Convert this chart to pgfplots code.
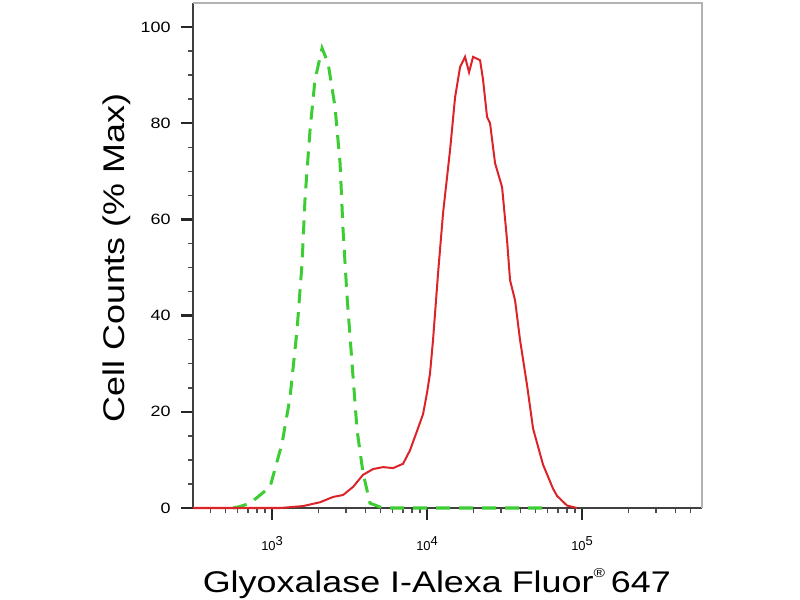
\documentclass[border=0pt]{standalone}
\usepackage{fontspec}
\setmainfont{Liberation Sans}
\usepackage{graphicx}
\usepackage{pgfplots}
\pgfplotsset{compat=1.18}

\definecolor{ctrlgreen}{RGB}{60,205,50}
\definecolor{samplered}{RGB}{220,35,40}

% isotype control (green dashed)
\pgfplotstableread{
x y
560 0
620 0.3
722 1.0
971 4.4
1161 13.5
1306 23
1449 37
1562 51
1634 64.7
1758 78.6
1892 89
2102 95.6
2298 92.5
2548 83.4
2746 71.7
2871 57.8
3047 43.9
3282 30
3535 16.2
3863 7.3
4285 1
4973 0.2
5525 0
60000 0
}\ctrltable

% Glyoxalase I stained cells (red)
\pgfplotstableread{
x y
309 0
1127 0
1585 0.4
2042 1.2
2476 2.3
2871 2.7
3334 4.4
3863 6.9
4487 8.1
5204 8.5
6040 8.3
7003 9.2
7762 12
8612 16
9418 19.5
10000 24
10450 28
10930 35
11780 48.9
12680 61.3
14070 74.4
15160 85.4
16330 91.7
17580 93.8
18660 90.6
19810 93.8
21980 93.1
22980 89
24380 81.3
25480 80
27460 71.7
30480 66.7
32810 55.7
34300 47.4
36960 43.2
39810 34.9
44170 25.5
48300 16.5
56010 9
65000 4
69000 2.5
80000 0.5
92900 0
}\redtable

\begin{document}
\begin{tikzpicture}
\path[use as bounding box] (0,0) rectangle (800bp,600bp);
\begin{axis}[
    at={(193bp,92bp)}, anchor=south west,
    scale only axis,
    width=509bp, height=505bp,
    xmode=log,
    xmin=309, xmax=594000,
    ymin=0, ymax=105,
    clip=false,
    axis x line*=bottom,
    axis y line*=left,
    axis line style={line width=1.5bp, black!75},
    tick align=outside,
    major tick length=12bp,
    minor tick length=5bp,
    every major tick/.append style={line width=2.5bp, black!85},
    every minor tick/.append style={line width=1.5bp, black!70},
    ytick={0,20,40,60,80,100},
    minor y tick num=3,
    xtick={1000,10000,100000},
    xticklabels={10\raisebox{0.7ex}{3},10\raisebox{0.7ex}{4},10\raisebox{0.7ex}{5}},
    minor xtick={400,500,600,700,800,900,2000,3000,4000,5000,6000,7000,8000,9000,20000,30000,40000,50000,60000,70000,80000,90000,200000,300000,400000,500000},
    xticklabel style={font=\fontsize{13}{15}\selectfont, anchor=base, yshift=-30bp},
    /pgf/number format/assume math mode=true,
    yticklabel style={font=\fontsize{15}{18}\selectfont, xshift=-7bp},
    yticklabel={\scalebox{1.2}[1]{\pgfmathprintnumber{\tick}}},
    xlabel={\scalebox{1.2}[1]{Glyoxalase I-Alexa Fluor\raisebox{0.9ex}{\fontsize{13}{13}\selectfont ®}\,647}},
    xlabel style={font=\fontsize{30}{34}\selectfont, at={([yshift=-84bp]rel axis cs:0.479,0)}, anchor=base},
    ylabel={\scalebox{1.2}[1]{Cell Counts (\% Max)}},
    ylabel style={font=\fontsize{30}{34}\selectfont, at={([xshift=-76bp]rel axis cs:0,0.495)}, anchor=center},
]
\addplot[ctrlgreen, line width=3bp, dash pattern=on 14bp off 9bp] table {\ctrltable};
\addplot[samplered, line width=2bp] table {\redtable};
\draw[gray!60, line width=1.5bp] (rel axis cs:0,1) -- (rel axis cs:1,1) -- (rel axis cs:1,0);
\end{axis}
\end{tikzpicture}
\end{document}
